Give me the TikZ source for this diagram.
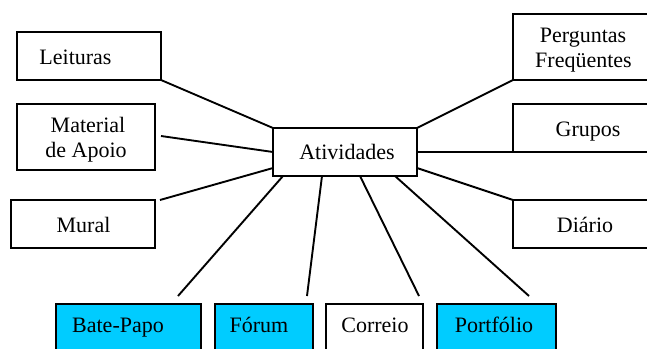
\documentclass[tikz,border=0pt]{standalone}
\usepackage{fontspec}
\setmainfont{Liberation Serif}
\newfontfamily\diagserif{Liberation Serif}
\usetikzlibrary{calc}
\definecolor{boxcyan}{RGB}{0,204,255}
\begin{document}
\begin{tikzpicture}[x=1pt,y=-1pt,
  box/.style={draw=black, line width=1.9pt, rectangle, inner sep=0pt, outer sep=0pt, anchor=north west},
  cyanbox/.style={box, fill=boxcyan},
  lbl/.style={anchor=base, inner sep=0pt, font=\diagserif\fontsize{22}{26}\selectfont},
  conn/.style={line width=1.9pt},
]
\useasboundingbox (0,0) rectangle (647,348);
\clip (0,0) rectangle (647,348);
\fill[white] (0,0) rectangle (647,348);
% boxes
\node[box, minimum width=144pt, minimum height=48pt] (leit) at (17,32) {};
\node[box, minimum width=138pt, minimum height=66pt] (mat) at (17,104) {};
\node[box, minimum width=144pt, minimum height=48pt] (ativ) at (273,128) {};
\node[box, minimum width=144pt, minimum height=48pt] (mural) at (11,200) {};
\node[box, minimum width=150pt, minimum height=66pt] (perg) at (513,14) {};
\node[box, minimum width=150pt, minimum height=48pt] (grup) at (513,104) {};
\node[box, minimum width=150pt, minimum height=48pt] (diar) at (513,200) {};
\node[cyanbox, minimum width=145pt, minimum height=60pt] (bate) at (56,304) {};
\node[cyanbox, minimum width=98pt, minimum height=60pt] (forum) at (215,304) {};
\node[box, minimum width=97pt, minimum height=60pt] (corr) at (326,304) {};
\node[cyanbox, minimum width=119pt, minimum height=60pt] (port) at (437,304) {};
% texts
\node[lbl] (tleit) at (75.5,64) {Leituras};
\node[lbl] (tmat1) at (88,132) {Material};
\node[lbl] (tmat2) at (86,157) {de Apoio};
\node[lbl] (tativ) at (347,159) {Atividades};
\node[lbl] (tmural) at (83.5,232) {Mural};
\node[lbl] (tperg1) at (583,42) {Perguntas};
\node[lbl] (tperg2) at (583.5,67) {Freqüentes};
\node[lbl] (tgrup) at (588,136) {Grupos};
\node[lbl] (tdiar) at (585,232) {Diário};
\node[lbl] (tbate) at (118,332) {Bate-Papo};
\node[lbl] (tforum) at (259,332) {Fórum};
\node[lbl] (tcorr) at (375,332) {Correio};
\node[lbl] (tport) at (494,332) {Portfólio};
% connectors
\draw[conn] (leit.south east) -- (ativ.north west);
\draw[conn] ($(mat.east)+(6,-1)$) -- (ativ.west);
\draw[conn] ($(mural.north east)+(5,0)$) -- ($(ativ.west)+(0,16)$);
\draw[conn] ($(bate.north)+(49.5,-8)$) -- ($(ativ.south west)+(10,0)$);
\draw[conn] ($(forum.north)+(43,-8)$) -- ($(ativ.south west)+(49,0)$);
\draw[conn] ($(ativ.south west)+(87,0)$) -- ($(corr.north)+(44.5,-8)$);
\draw[conn] ($(ativ.south west)+(122,0)$) -- ($(port.north)+(32.5,-8)$);
\draw[conn] ($(ativ.east)+(0,16)$) -- (diar.north west);
\draw[conn] (ativ.north east) -- (perg.south west);
\draw[conn] (ativ.east) -- (grup.south west);
\end{tikzpicture}
\end{document}
